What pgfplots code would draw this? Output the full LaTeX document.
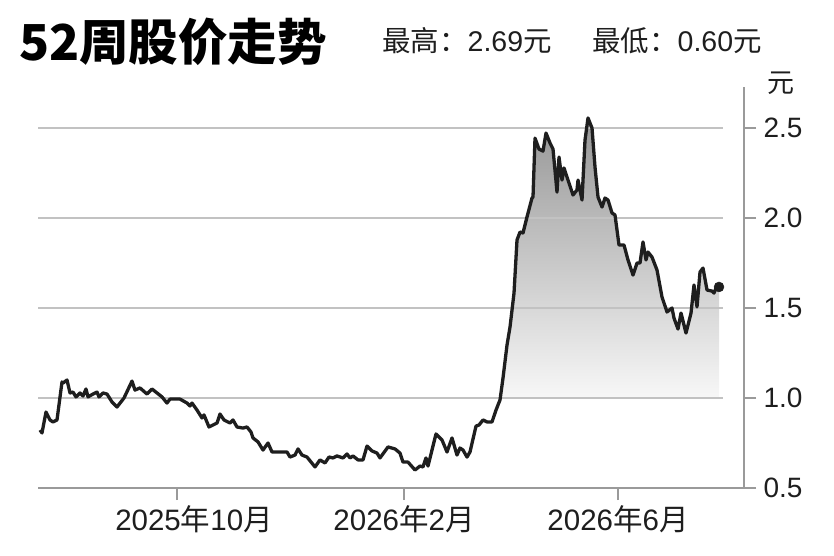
\documentclass[border=0pt]{standalone}
\usepackage{fontspec}
\usepackage{pgfplots}
\usepackage{pgfplotstable}
\pgfplotsset{compat=1.18}
\setmainfont{Liberation Sans}
\newfontfamily\cjk{Noto Sans CJK SC}

\definecolor{ink}{HTML}{1E1E1E}
\definecolor{gridc}{HTML}{C2C2C2}
\definecolor{axisc}{HTML}{9A9A9A}
\definecolor{filltop}{RGB}{150,150,150}
\definecolor{fillbot}{RGB}{248,248,248}

% x = position along the 52 weeks, y = price (yuan)
\pgfplotstableread{
x y
40 0.822
42 0.806
46 0.922
50 0.878
53 0.867
57 0.878
62 1.089
63 1.083
67 1.100
70 1.028
73 1.033
76 1.006
80 1.028
83 1.011
86 1.050
88 1.006
93 1.022
97 1.033
99 1.006
103 1.028
107 1.022
112 0.978
117 0.950
124 1.000
132 1.094
135 1.044
140 1.056
147 1.022
152 1.050
157 1.028
162 1.006
167 0.972
170 0.994
180 0.994
187 0.972
190 0.956
192 0.972
197 0.933
202 0.889
204 0.906
209 0.839
213 0.850
217 0.861
220 0.911
224 0.878
230 0.861
233 0.878
237 0.839
243 0.833
247 0.839
251 0.811
253 0.778
258 0.756
263 0.711
268 0.750
272 0.700
287 0.700
290 0.672
295 0.683
298 0.717
302 0.683
307 0.672
315 0.617
320 0.656
325 0.639
329 0.672
333 0.667
337 0.678
343 0.667
347 0.689
350 0.667
353 0.678
358 0.656
363 0.656
367 0.733
372 0.706
377 0.694
380 0.667
388 0.728
395 0.717
400 0.694
403 0.644
408 0.644
415 0.600
420 0.622
423 0.617
426 0.667
428 0.622
436 0.800
442 0.767
447 0.700
452 0.778
457 0.683
460 0.722
463 0.711
467 0.672
470 0.700
476 0.844
479 0.850
483 0.878
487 0.867
492 0.867
496 0.933
500 0.989
503 1.111
507 1.294
510 1.394
514 1.583
517 1.878
520 1.922
523 1.917
527 2.006
532 2.111
533 2.117
535 2.444
539 2.383
543 2.372
546 2.472
550 2.417
553 2.383
557 2.144
559 2.339
562 2.211
564 2.278
568 2.211
573 2.128
577 2.156
578 2.211
582 2.100
585 2.433
588 2.556
592 2.500
595 2.283
598 2.117
602 2.061
605 2.111
608 2.100
612 2.028
615 2.017
619 1.850
624 1.850
628 1.767
633 1.683
637 1.750
640 1.750
643 1.867
646 1.767
648 1.811
652 1.783
657 1.711
662 1.561
667 1.478
672 1.500
674 1.444
678 1.383
681 1.472
686 1.361
691 1.472
694 1.628
697 1.506
700 1.700
703 1.722
707 1.600
712 1.594
714 1.583
716 1.611
719 1.617
}\price

\begin{document}
\begin{tikzpicture}
\useasboundingbox (0,0) rectangle (834pt,556pt);

\node[anchor=base west, inner sep=0pt, text=black]
  at (19pt,495pt) {\fontsize{49.5}{56}\selectfont\cjk\bfseries 52周股价走势};
\node[anchor=base west, inner sep=0pt, text=ink]
  at (382pt,504pt) {\fontsize{28.5}{32}\selectfont{\cjk 最高：}2.69{\cjk 元}};
\node[anchor=base west, inner sep=0pt, text=ink]
  at (592pt,504pt) {\fontsize{28.5}{32}\selectfont{\cjk 最低：}0.60{\cjk 元}};
\node[inner sep=0pt, text=ink]
  at (781pt,473pt) {\fontsize{27}{30}\selectfont\cjk 元};

\begin{axis}[
  at={(38pt,68pt)}, anchor=origin,
  scale only axis,
  width=706pt, height=401pt,
  xmin=38, xmax=744,
  ymin=0.5, ymax=2.728,
  clip=false,
  axis x line*=bottom,
  axis y line*=right,
  axis line style={axisc, line width=1.5pt},
  tick align=outside,
  major tick length=12pt,
  tick style={axisc, line width=1.5pt},
  xtick={177,404,618},
  xticklabels={\hspace*{34pt}2025{\cjk 年}10{\cjk 月}, 2026{\cjk 年}2{\cjk 月}, 2026{\cjk 年}6{\cjk 月}},
  ytick={0.5,1.0,1.5,2.0,2.5},
  yticklabel style={xshift=4pt, font=\fontsize{28}{30}\selectfont,
    /pgf/number format/.cd, fixed, fixed zerofill, precision=1,
    assume math mode=true},
  ticklabel style={text=ink},
  xticklabel style={yshift=-2pt, font=\fontsize{29.5}{32}\selectfont},
]

% shaded area under the rally
\addplot[draw=none, top color=filltop, bottom color=fillbot,
  restrict x to domain=500:719]
  table[x=x, y=y] {\price} -- (axis cs:719,1.0) -- (axis cs:500,1.0) -- cycle;

\foreach \g in {1.0,1.5,2.0,2.5}{
  \edef\tmp{\noexpand\draw[gridc, line width=2pt] (axis cs:38,\g) -- (axis cs:723,\g);}
  \tmp
}

\addplot[ink, line width=3.3pt, line join=round, mark=none] table[x=x, y=y] {\price};

\addplot[ink, only marks, mark=*, mark size=5pt] coordinates {(719,1.617)};

\end{axis}
\end{tikzpicture}
\end{document}
